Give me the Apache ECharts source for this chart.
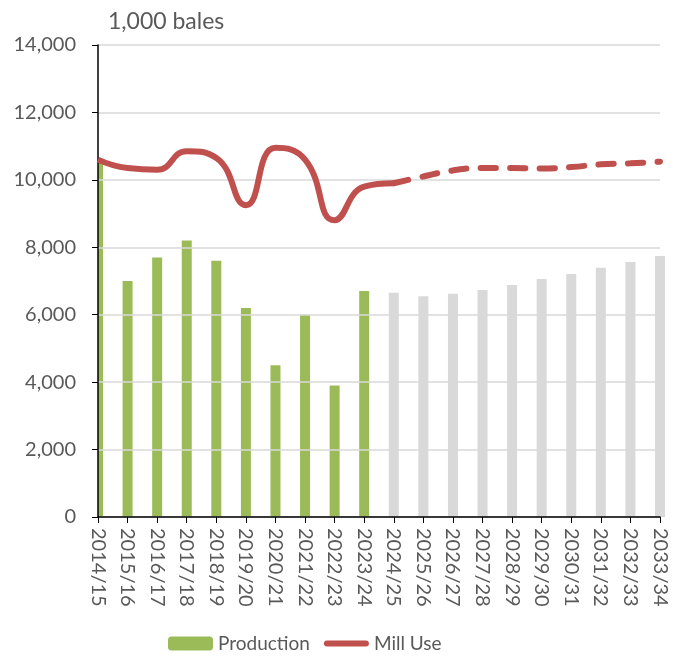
<!DOCTYPE html>
<html lang="en">
<head>
    <meta charset="UTF-8">
    <title>Production and Mill Use</title>
    <script src="https://cdn.jsdelivr.net/npm/echarts@6/dist/echarts.min.js"></script>
    <style>
        * { margin: 0; padding: 0 }
        html, body { width: 100%; height: 100%; background: #fff }
        #main { width: 677px; height: 659px }
    </style>
</head>
<body>
    <div id="main"></div>
    <script type="text/javascript">
        var years = ['2014/15', '2015/16', '2016/17', '2017/18', '2018/19', '2019/20', '2020/21',
            '2021/22', '2022/23', '2023/24', '2024/25', '2025/26', '2026/27', '2027/28', '2028/29',
            '2029/30', '2030/31', '2031/32', '2032/33', '2033/34'];
        // actual production (green)
        var production = [10550, 7000, 7700, 8200, 7600, 6200, 4500, 6000, 3900, 6700,
            null, null, null, null, null, null, null, null, null, null];
        // projected production (grey)
        var projected = [null, null, null, null, null, null, null, null, null, null,
            6650, 6550, 6620, 6730, 6880, 7060, 7210, 7390, 7560, 7740];
        // mill use, solid part and dashed (projection) part
        var millUse = [10600, 10350, 10300, 10850, 10650, 9250, 10950, 10600, 8800, 9800, 9900,
            null, null, null, null, null, null, null, null, null];
        var millUseProj = [null, null, null, null, null, null, null, null, null, null, 9900,
            10100, 10280, 10350, 10350, 10340, 10380, 10460, 10490, 10540];

        var font = 'Lato, "Open Sans", sans-serif';
        var myChart = echarts.init(document.getElementById('main'));
        var option = {
            animation: false,
            textStyle: { fontFamily: font },
            title: {
                text: '1,000 bales',
                left: 103,
                top: 5,
                textStyle: { fontFamily: font, fontSize: 23, fontWeight: 'normal', color: '#595959' }
            },
            // white mask so the first bar is cut at the axis like in the original
            graphic: [{
                type: 'rect',
                left: 86,
                top: 40,
                shape: { width: 12, height: 477 },
                style: { fill: '#fff' },
                z: 2.5,
                silent: true
            }],
            legend: {
                data: [
                    { name: 'Production' },
                    { name: 'Mill Use', icon: 'path://M3,0 L42,0 A3,3 0 0 1 42,6 L3,6 A3,3 0 0 1 3,0 Z' }
                ],
                bottom: 1,
                left: 163,
                itemWidth: 45,
                itemHeight: 14,
                itemGap: 14,
                textStyle: { fontFamily: font, fontSize: 19, color: '#595959' }
            },
            grid: { left: 98, right: 17, top: 45, bottom: 142 },
            xAxis: {
                type: 'category',
                data: years,
                boundaryGap: false,
                z: 3,
                axisLine: { lineStyle: { color: '#000', width: 1.5 } },
                axisTick: { show: true, length: 6, lineStyle: { color: '#000' } },
                axisLabel: {
                    rotate: -90,
                    interval: 0,
                    margin: 11,
                    fontFamily: font,
                    fontSize: 20,
                    color: '#595959'
                }
            },
            yAxis: {
                type: 'value',
                min: 0,
                max: 14000,
                interval: 2000,
                z: 3,
                axisLine: { show: true, lineStyle: { color: '#000', width: 1.5 } },
                axisTick: { show: true, length: 6, lineStyle: { color: '#000' } },
                splitLine: { lineStyle: { color: '#d9d9d9', width: 1.5 } },
                axisLabel: {
                    margin: 22,
                    fontFamily: font,
                    fontSize: 20,
                    color: '#595959',
                    formatter: function (v) { return v.toLocaleString('en-US'); }
                }
            },
            series: [{
                name: 'Production',
                type: 'bar',
                data: production,
                barWidth: 10,
                barGap: '-100%',
                itemStyle: { color: '#9bbb59' }
            }, {
                name: 'Projected',
                type: 'bar',
                data: projected,
                barWidth: 10,
                barGap: '-100%',
                itemStyle: { color: '#d9d9d9' }
            }, {
                name: 'Mill Use',
                type: 'line',
                data: millUse,
                smooth: 0.5,
                symbol: 'none',
                z: 4,
                lineStyle: { color: '#c0504d', width: 6 },
                itemStyle: { color: '#c0504d' }
            }, {
                name: 'Mill Use proj',
                type: 'line',
                data: millUseProj,
                smooth: 0.5,
                symbol: 'none',
                z: 4,
                lineStyle: { color: '#c0504d', width: 6, type: [15, 14.5], cap: 'round' },
                itemStyle: { color: '#c0504d' }
            }]
        };
        myChart.setOption(option);
    </script>
</body>
</html>
